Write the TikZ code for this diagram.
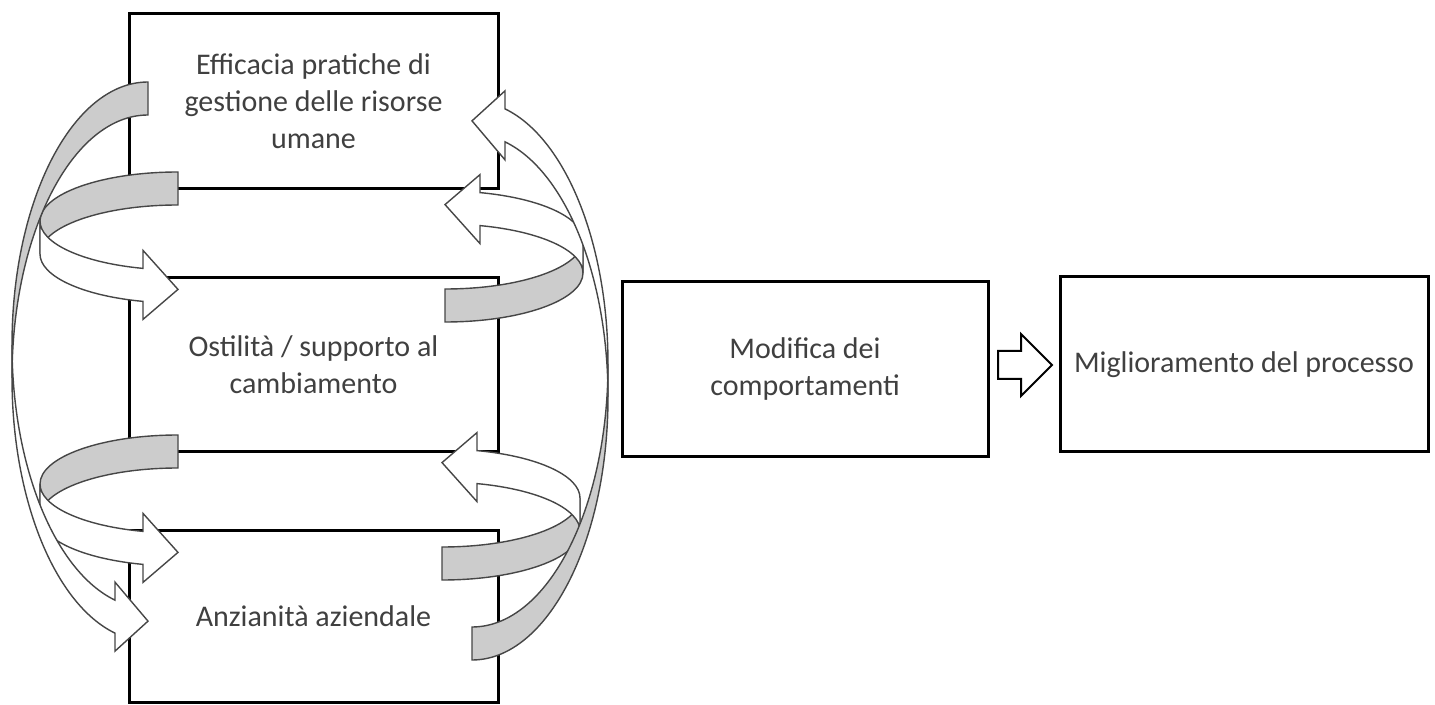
\documentclass[tikz,border=0pt]{standalone}
\usepackage{fontspec}
\setmainfont{Carlito}
\usetikzlibrary{positioning}
\usetikzlibrary{shapes.arrows}
\definecolor{testo}{RGB}{64,64,64}
\definecolor{grigio}{RGB}{204,204,204}
\definecolor{bordo}{RGB}{70,70,70}

\begin{document}
\begin{tikzpicture}[
    x=0.5pt, y=-0.5pt,
    box/.style={rectangle, draw=black, line width=1.5pt, fill=white, minimum width=184.5pt,
                minimum height=87.5pt, align=center, text=testo, font=\fontsize{15}{18.5}\selectfont},
    back/.style={fill=grigio, draw=bordo, line width=0.7pt},
    front/.style={fill=white, draw=bordo, line width=0.7pt},
    bigarrow/.style={single arrow, draw=black, line width=1pt, inner xsep=0pt, inner ysep=6.5pt,
                     minimum height=27pt, minimum width=30pt, single arrow head extend=8.5pt},
    pics/curvearrow/.style n args={3}{code={
        \pgfmathsetmacro{\angh}{acos(-#3/#1)}
        \pgfmathsetmacro{\ysh}{#2*sin(\angh)}
        \filldraw[back] (0,-#2) arc[start angle=270, end angle=180, x radius=#1, y radius=#2]
            -- (-#1,33) arc[start angle=180, end angle=270, x radius=#1, y radius=#2] -- cycle;
        \filldraw[front] (-#1,0) arc[start angle=180, end angle=\angh, x radius=#1, y radius=#2]
            -- (-#3,\ysh-18) -- (0,\ysh+21) -- (-#3,\ysh+51) -- (-#3,\ysh+33)
            arc[start angle=\angh, end angle=180, x radius=#1, y radius=#2] -- cycle;
    }}
]
    \useasboundingbox (0,0) rectangle (1435,705);

    % the three factors
    \node[box] (efficacia) at (313.5,101) {Efficacia pratiche di\\gestione delle risorse\\umane};
    \node[box, minimum height=87pt] (ostilita) at (313.5,365) {Ostilità / supporto al\\cambiamento};
    \node[box, minimum height=86pt] (anzianita) at (313.5,616) {Anzianità aziendale};

    % left loops
    \pic at (178,221) {curvearrow={138}{49}{35}};
    \pic at (178,484) {curvearrow={138}{49}{35}};
    \pic at (148,345) {curvearrow={136}{263}{33}};

    % right loops
    \pic[rotate=180] at (445,273) {curvearrow={138}{49}{35}};
    \pic[rotate=180] at (442,531) {curvearrow={138}{49}{35}};
    \pic[rotate=180] at (472,397) {curvearrow={136}{263}{33}};

    % outcome
    \node[box, minimum width=183pt] (modifica) at (805,369.5) {Modifica dei\\comportamenti};
    \node[bigarrow] (freccia) at (1018,365) {};
    \node[box, minimum width=184pt] (miglior) at (1244,364.5) {Miglioramento del processo};
\end{tikzpicture}
\end{document}
